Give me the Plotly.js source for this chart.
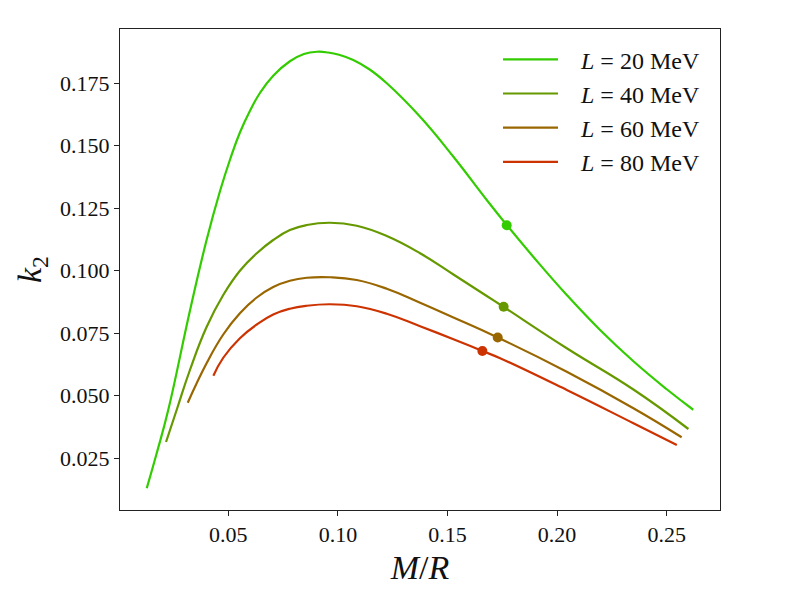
<!DOCTYPE html>
<html>
<head>
<meta charset="utf-8">
<script src="https://cdn.plot.ly/plotly-3.0.1.min.js"></script>
<style>
  html, body { margin: 0; padding: 0; background: #fff; }
  #chart { width: 800px; height: 600px; }
</style>
</head>
<body>
<div id="chart"></div>
<script>
// values
var labels = ["20", "40", "60", "80"];
var colors = ["#33cc00", "#669900", "#996600", "#cc3300"];

var mr20 = [0.0128, 0.0175, 0.0226, 0.0325, 0.0401, 0.0462, 0.0508, 0.0553, 0.0599, 0.0645, 0.0705, 0.0781, 0.0845, 0.0905, 0.0955, 0.1005, 0.107, 0.1145, 0.1223, 0.1375, 0.1527, 0.1679, 0.177, 0.1891, 0.2044, 0.2196, 0.2348, 0.25, 0.2621];
var k20  = [0.013, 0.0275, 0.0443, 0.084, 0.1123, 0.1318, 0.1445, 0.1553, 0.164, 0.1712, 0.178, 0.1838, 0.1867, 0.1876, 0.1873, 0.1864, 0.1843, 0.1805, 0.175, 0.1616, 0.1456, 0.1283, 0.1183, 0.1056, 0.0903, 0.0763, 0.0638, 0.0526, 0.0444];

var mr40 = [0.0216, 0.0267, 0.0325, 0.0401, 0.0477, 0.0553, 0.063, 0.0705, 0.0781, 0.0858, 0.0964, 0.1086, 0.1223, 0.1375, 0.1527, 0.1679, 0.1755, 0.2044, 0.2348, 0.2599];
var k40  = [0.0315, 0.045, 0.0603, 0.0775, 0.0903, 0.1, 0.107, 0.1123, 0.1163, 0.1183, 0.1192, 0.118, 0.1139, 0.107, 0.0985, 0.0899, 0.0856, 0.069, 0.0525, 0.0367];

var mr60 = [0.0315, 0.0401, 0.0477, 0.0553, 0.063, 0.0705, 0.0781, 0.0858, 0.0964, 0.1086, 0.1223, 0.1375, 0.1527, 0.1729, 0.2044, 0.2348, 0.2568];
var k60  = [0.0472, 0.063, 0.0745, 0.083, 0.0893, 0.0935, 0.096, 0.0972, 0.0974, 0.0963, 0.0928, 0.0872, 0.0813, 0.0733, 0.0596, 0.045, 0.0334];

var mr80 = [0.0432, 0.0477, 0.0553, 0.063, 0.0705, 0.0781, 0.0858, 0.0964, 0.1086, 0.1223, 0.1375, 0.1527, 0.1659, 0.174, 0.2044, 0.2348, 0.2546];
var k80  = [0.058, 0.0652, 0.073, 0.0785, 0.0825, 0.0848, 0.086, 0.0866, 0.0858, 0.0828, 0.0778, 0.0726, 0.0679, 0.065, 0.0523, 0.039, 0.0303];

// highlighted points
var dotMr = [0.177, 0.1756, 0.1729, 0.1659];
var dotK  = [0.1182, 0.0856, 0.0733, 0.0679];

var xs = [mr20, mr40, mr60, mr80];
var ys = [k20, k40, k60, k80];

var serif = "Liberation Serif, DejaVu Serif, serif";

var data = [];
xs.forEach((x, i) => {
	data.push({
		x: x,
		y: ys[i],
		type: "scatter",
		mode: "lines",
		name: "&nbsp;&nbsp;&nbsp;<i>L</i> = " + labels[i] + " MeV",
		legendgroup: "g" + i,
		line: {color: colors[i], width: 2.2, shape: "spline", smoothing: 1.3}
	});
});
dotMr.forEach((x, i) => {
	data.push({
		x: [x],
		y: [dotK[i]],
		type: "scatter",
		mode: "markers",
		showlegend: false,
		legendgroup: "g" + i,
		marker: {color: colors[i], size: 10}
	});
});

var axisStyle = {
	showgrid: false,
	zeroline: false,
	showline: true,
	mirror: true,
	linecolor: "#222",
	linewidth: 1,
	ticks: "outside",
	ticklen: 5,
	tickwidth: 1,
	tickcolor: "#222",
	tickfont: {family: serif, size: 22, color: "#111"}
};

var layout = {
	width: 800,
	height: 600,
	margin: {l: 120, r: 80, t: 29, b: 90},
	paper_bgcolor: "#fff",
	plot_bgcolor: "#fff",
	showlegend: true,
	legend: {
		x: 0.975, xanchor: "right",
		y: 0.983, yanchor: "top",
		bgcolor: "rgba(255,255,255,0)",
		font: {family: serif, size: 24, color: "#111"},
		tracegroupgap: 0,
		itemwidth: 55
	},
	xaxis: Object.assign({}, axisStyle, {
		range: [0.0006, 0.2743],
		tick0: 0,
		dtick: 0.05,
		tickformat: ".2f",
		title: {text: "<i>M</i>/<i>R</i>", font: {family: serif, size: 34, color: "#111"}, standoff: 8}
	}),
	yaxis: Object.assign({}, axisStyle, {
		range: [0.0043, 0.1967],
		tick0: 0,
		dtick: 0.025,
		tickformat: ".3f",
		title: {text: "<i>k</i><sub>2</sub>", font: {family: serif, size: 34, color: "#111"}, standoff: 8}
	})
};

Plotly.newPlot("chart", data, layout, {displayModeBar: false, staticPlot: true});
</script>
</body>
</html>
